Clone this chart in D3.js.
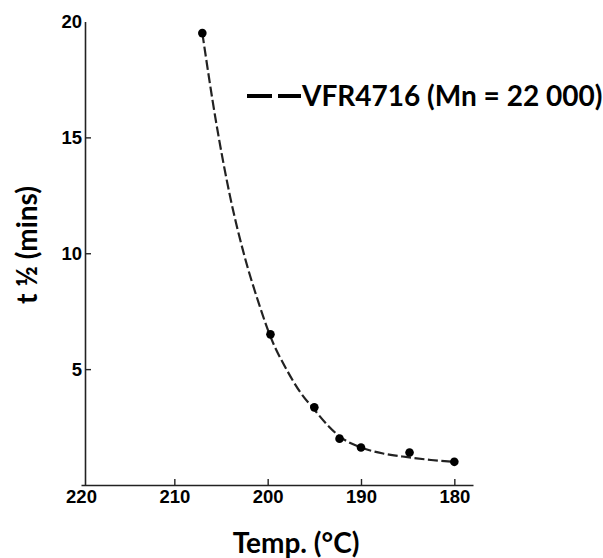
<!DOCTYPE html>
<html>
<head>
<meta charset="utf-8">
<script src="https://cdn.jsdelivr.net/npm/d3@7"></script>
<style>
  body { margin: 0; background: #fff; }
  svg { display: block; }
</style>
</head>
<body>
<div id="chart"></div>
<script>
// measured points (temperature in °C, half-life in minutes)
const temps = [207, 199.7, 195.0, 192.3, 190.0, 184.8, 180.0];
const halfLives = [19.5, 6.5, 3.35, 2.0, 1.62, 1.4, 1.0];

// hand-drawn fit curve
const curveTemps = [207, 205.5, 204, 202.5, 201, 199.7, 198, 196.5, 195, 193.5, 192.3, 190, 187.5, 185, 182.5, 180];
const curveVals = [19.5, 15.6, 12.4, 9.9, 7.9, 6.4, 5.0, 4.0, 3.25, 2.55, 2.1, 1.62, 1.35, 1.2, 1.08, 1.0];

const xTicks = [220, 210, 200, 190, 180];
const yTicks = [5, 10, 15, 20];
const seriesName = "VFR4716 (Mn = 22 000)";

const W = 603, H = 558;

const svg = d3.select("#chart").append("svg")
    .attr("width", W)
    .attr("height", H);

// scales - x runs backwards (220 on the left)
const x = d3.scaleLinear().domain([220, 178]).range([81, 473]);
const y = d3.scaleLinear().domain([0, 20]).range([485, 21.5]);

const tickFont = "'Liberation Sans', Arial, sans-serif";
const titleFont = "Lato, 'Open Sans', sans-serif";

// x axis
const xAxis = svg.append("g")
    .attr("transform", "translate(0," + y(0) + ")")
    .call(d3.axisBottom(x).tickValues(xTicks).tickSizeInner(-6).tickSizeOuter(0).tickPadding(5).tickFormat(d3.format("d")));
xAxis.select(".domain").attr("stroke", "#222").attr("stroke-width", 1.6);
xAxis.selectAll(".tick line").attr("stroke", "#222").attr("stroke-width", 1.4);
xAxis.selectAll(".tick").filter(d => d === 220).select("line").remove();
xAxis.selectAll(".tick text")
    .attr("font-family", tickFont)
    .attr("font-weight", "bold")
    .attr("font-size", 18.5)
    .attr("fill", "#000");

// y axis
const yAxis = svg.append("g")
    .attr("transform", "translate(85,0)")
    .call(d3.axisLeft(y).tickValues(yTicks).tickSizeInner(-6).tickSizeOuter(0).tickPadding(3));
yAxis.select(".domain").attr("stroke", "#222").attr("stroke-width", 1.6);
yAxis.selectAll(".tick line").attr("stroke", "#222").attr("stroke-width", 1.4);
yAxis.selectAll(".tick").filter(d => d === 20).select("line").remove();
yAxis.selectAll(".tick text")
    .attr("font-family", tickFont)
    .attr("font-weight", "bold")
    .attr("font-size", 18.5)
    .attr("fill", "#000");

// fitted dashed curve
const curveData = curveTemps.map((t, i) => ({t: t, v: curveVals[i]}));
const line = d3.line()
    .x(d => x(d.t))
    .y(d => y(d.v))
    .curve(d3.curveMonotoneX);

svg.append("path")
    .datum(curveData)
    .attr("d", line)
    .attr("fill", "none")
    .attr("stroke", "#222")
    .attr("stroke-width", 2.2)
    .attr("stroke-dasharray", "10,3.5");

// data points
const pts = temps.map((t, i) => ({t: t, v: halfLives[i]}));
svg.append("g")
    .selectAll("circle")
    .data(pts)
    .enter()
    .append("circle")
    .attr("cx", d => x(d.t))
    .attr("cy", d => y(d.v))
    .attr("r", 4.3)
    .attr("fill", "#000");

// legend
const legend = svg.append("g").attr("transform", "translate(247,96)");
legend.append("line")
    .attr("x1", 0).attr("x2", 54)
    .attr("y1", 0).attr("y2", 0)
    .attr("stroke", "#000")
    .attr("stroke-width", 4)
    .attr("stroke-dasharray", "25,6");
legend.append("text")
    .attr("x", 55)
    .attr("y", 0)
    .attr("dy", "0.36em")
    .attr("font-family", titleFont)
    .attr("font-weight", "bold")
    .attr("font-size", 28)
    .text(seriesName);

// axis titles
svg.append("text")
    .attr("x", 296)
    .attr("y", 553)
    .attr("text-anchor", "middle")
    .attr("font-family", titleFont)
    .attr("font-weight", "bold")
    .attr("font-size", 28)
    .text("Temp. (°C)");

svg.append("text")
    .attr("transform", "translate(37,245) rotate(-90)")
    .attr("text-anchor", "middle")
    .attr("font-family", titleFont)
    .attr("font-weight", "bold")
    .attr("font-size", 28)
    .text("t ½ (mins)");
</script>
</body>
</html>
